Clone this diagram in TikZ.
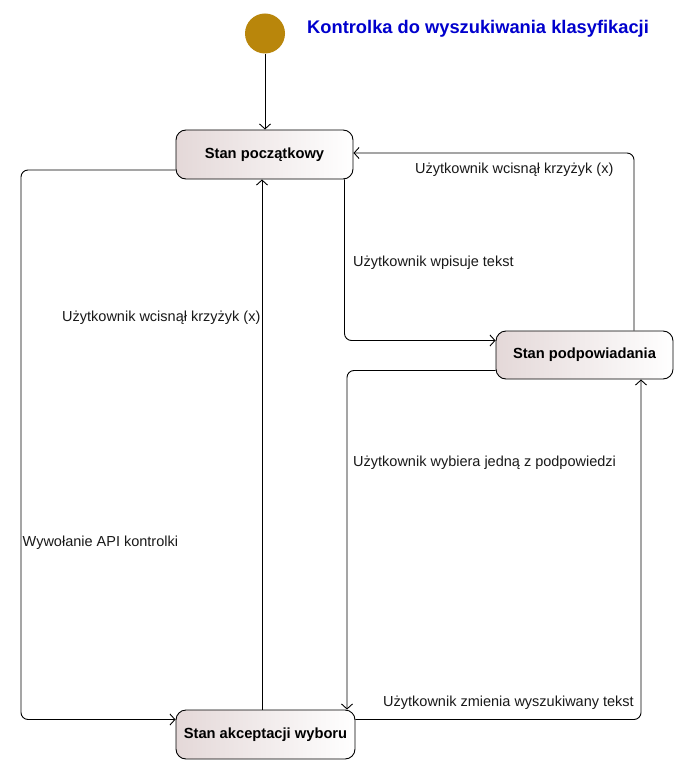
\documentclass[tikz,border=0pt]{standalone}
\usepackage{fontspec}
\setmainfont{Liberation Sans}
\usetikzlibrary{arrows.meta,calc}
\definecolor{initcol}{RGB}{185,134,11}
\definecolor{titleblue}{RGB}{0,0,205}
\definecolor{boxleft}{RGB}{228,216,216}
\begin{document}
\begin{tikzpicture}[x=1pt,y=-1pt,
  statebox/.style={draw=black,line width=0.9pt,rounded corners=10pt,
    left color=boxleft,right color=white,font=\fontsize{14.7}{17}\selectfont\bfseries,
    inner sep=0pt},
  conn/.style={draw=black,line width=0.9pt,rounded corners=7pt,
    -{Straight Barb[length=5pt,width=11pt]}},
  lbl/.style={font=\fontsize{14.5}{17}\selectfont,inner sep=0pt,text=black!90}]
\useasboundingbox (0,0) rectangle (684,770);
\fill[white] (0,0) rectangle (684,770);

\node[circle,fill=initcol,minimum size=40pt,inner sep=0pt] (init) at (265,33.5) {};
\node[anchor=base west,inner sep=0pt,text=titleblue,font=\fontsize{18.3}{21}\selectfont\bfseries] (title) at (307,34) {Kontrolka do wyszukiwania klasyfikacji};

\node[statebox,minimum width=177pt,minimum height=49pt] (s1) at (264.5,154.5) {Stan początkowy};
\node[statebox,minimum width=177pt,minimum height=48pt] (s2) at (584.5,355) {Stan podpowiadania};
\node[statebox,minimum width=179pt,minimum height=49pt] (s3) at (265.5,734.5) {Stan akceptacji wyboru};

% helper coordinates
\coordinate (pa) at (21,170);
\coordinate (pb) at (21,719.5);
\coordinate (pc) at (262,0);
\coordinate (pd) at (344.5,340.5);
\coordinate (pe) at (634,153);
\coordinate (pf) at (347,370.5);
\coordinate (pg) at (641,719.5);

% initial -> s1
\draw[conn] (init.south) -- (init.south |- s1.north);
% s1 -> s3 (Wywolanie API)
\draw[conn] (s1.west |- pa) -- (pa) -- (pb) -- (s3.west |- pb);
% s3 -> s1
\draw[conn] (s3.north -| pc) -- (s1.south -| pc);
% s1 -> s2
\draw[conn] (s1.south -| pd) -- (pd) -- (s2.west |- pd);
% s2 -> s1
\draw[conn] (s2.north -| pe) -- (pe) -- (s1.east |- pe);
% s2 -> s3
\draw[conn] (s2.west |- pf) -- (pf) -- (s3.north -| pf);
% s3 -> s2
\draw[conn] (s3.east |- pg) -- (pg) -- (s2.south -| pg);

% labels
\node[lbl,anchor=base west] (l1) at (62,321) {Użytkownik wcisnął krzyżyk (x)};
\node[lbl,anchor=base west] (l2) at (415,174) {Użytkownik wcisnął krzyżyk (x)};
\node[lbl,anchor=base west] (l3) at (353,266.5) {Użytkownik wpisuje tekst};
\node[lbl,anchor=base west] (l4) at (353,466.5) {Użytkownik wybiera jedną z podpowiedzi};
\node[lbl,anchor=base west] (l5) at (22.5,546.5) {Wywołanie API kontrolki};
\node[lbl,anchor=base east] (l6) at (634,706.5) {Użytkownik zmienia wyszukiwany tekst};
\end{tikzpicture}
\end{document}
